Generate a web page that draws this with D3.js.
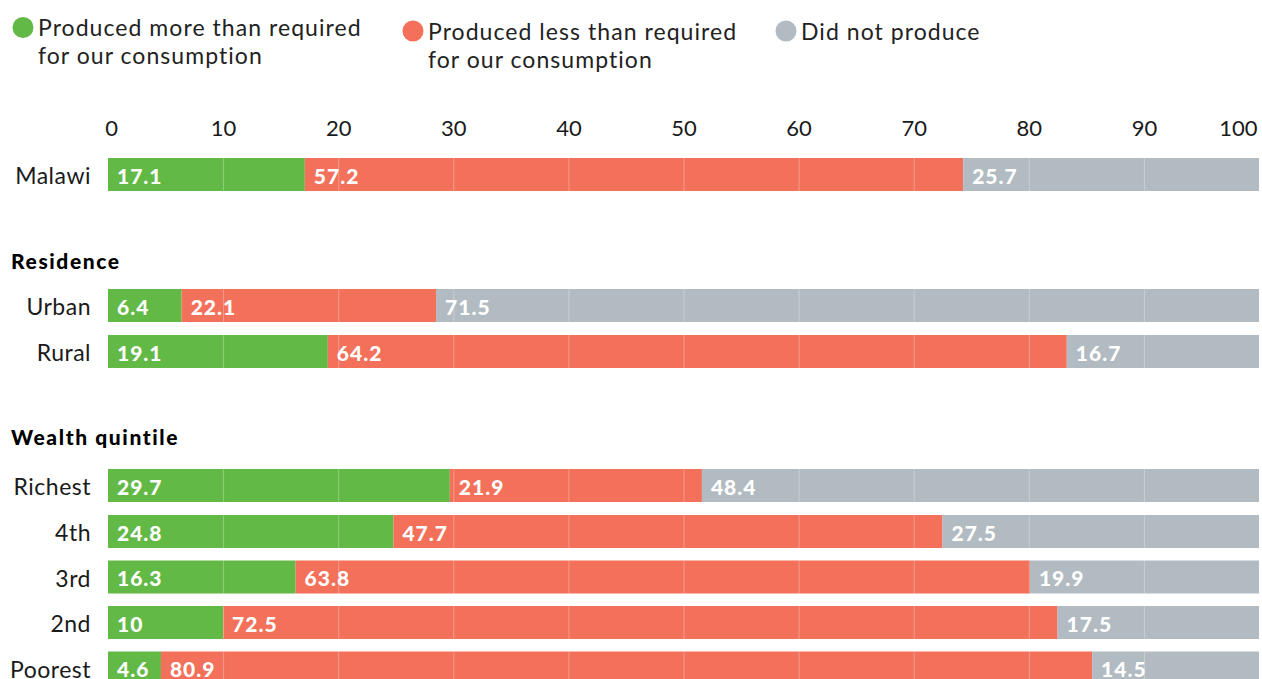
<!DOCTYPE html>
<html><head><meta charset="utf-8">
<script src="https://cdn.jsdelivr.net/npm/d3@7"></script>
<style>body{margin:0;background:#fff;} svg{display:block;font-family:Lato,"Open Sans",sans-serif;}</style>
</head><body>
<script>
const categories = ["Malawi","Urban","Rural","Richest","4th","3rd","2nd","Poorest"];
const groups = ["", "Residence", "Residence", "Wealth quintile", "Wealth quintile", "Wealth quintile", "Wealth quintile", "Wealth quintile"];
const producedMore = [17.1, 6.4, 19.1, 29.7, 24.8, 16.3, 10, 4.6];
const producedLess = [57.2, 22.1, 64.2, 21.9, 47.7, 63.8, 72.5, 80.9];
const didNotProduce = [25.7, 71.5, 16.7, 48.4, 27.5, 19.9, 17.5, 14.5];
const seriesNames = ["Produced more than required\nfor our consumption", "Produced less than required\nfor our consumption", "Did not produce"];
const tickValues = [0,10,20,30,40,50,60,70,80,90,100];
const colors = ["#62b946", "#f3705a", "#b1bbc1"];

const W = 1262, H = 679;
const svg = d3.select("body").append("svg").attr("width", W).attr("height", H);
const x = d3.scaleLinear().domain([0,100]).range([108, 1259]);

// row top positions: layout
const rowTops = [158, 289, 335, 469, 515, 560.5, 606, 651.5];
const barH = 33;
const y = d3.scaleOrdinal().domain(categories).range(rowTops);

// axis
const axis = d3.axisTop(x).tickValues(tickValues).tickSize(0).tickPadding(0);
const ag = svg.append("g").attr("transform","translate(0,136)").call(axis);
ag.select(".domain").remove();
ag.selectAll("text").attr("font-size", 22).attr("fill","#1a1a1a").attr("font-family","Lato, sans-serif").attr("dy", 0);
ag.selectAll(".tick").filter(d=>d===100).select("text").attr("text-anchor","end").attr("x",-2);
ag.selectAll(".tick").filter(d=>d===0).select("text").attr("x",3);

// data stacking
const rows = categories.map((c,i)=>({cat:c, vals:[producedMore[i], producedLess[i], didNotProduce[i]]}));
const rg = svg.selectAll("g.row").data(rows).join("g").attr("class","row")
  .attr("transform", d=>`translate(0,${y(d.cat)})`);
rg.each(function(d){
  const g = d3.select(this);
  let acc = 0;
  d.vals.forEach((v,k)=>{
    g.append("rect").attr("x", x(acc)).attr("y",0).attr("width", x(acc+v)-x(acc)).attr("height", barH).attr("fill", colors[k]);
    acc += v;
  });
  // gridlines
  tickValues.slice(1,-1).forEach(t=>{
    g.append("line").attr("x1", x(t)+0.5).attr("x2", x(t)+0.5).attr("y1",0).attr("y2",barH)
      .attr("stroke","#fff").attr("stroke-opacity",0.3).attr("stroke-width",1);
  });
  acc = 0;
  d.vals.forEach((v,k)=>{
    g.append("text").attr("x", x(acc)+9).attr("y", 25.5)
      .attr("fill","#fff").attr("font-weight","900").attr("font-size",21).attr("letter-spacing",1).text(v);
    acc += v;
  });
  g.append("text").attr("x", 91).attr("y", 26).attr("text-anchor","end")
    .attr("font-size",23).attr("letter-spacing",0.5).attr("fill","#1a1a1a").text(d.cat);
});

// group titles
const groupTitles = [...new Set(groups.filter(g=>g))];
const titleOffsets = [20, 24];
groupTitles.forEach((gname,i)=>{
  const first = categories[groups.indexOf(gname)];
  svg.append("text").attr("x",11).attr("y", y(first)-titleOffsets[i])
    .attr("font-weight","900").attr("font-size",21).attr("letter-spacing",1.6).attr("fill","#000").text(gname);
});

// legend
const legX = [23, 413, 786];
const legY = [27.5, 31, 31];
seriesNames.forEach((s,i)=>{
  const g = svg.append("g");
  g.append("circle").attr("cx", legX[i]).attr("cy", legY[i]).attr("r",10.5).attr("fill", colors[i]);
  const t = g.append("text").attr("x", legX[i]+15).attr("y", legY[i]+8.5).attr("font-size",23).attr("letter-spacing",1.05).attr("fill","#222");
  s.split("\n").forEach((line,j)=>{
    t.append("tspan").attr("x", legX[i]+15).attr("dy", j===0 ? 0 : 28).text(line);
  });
});
</script>
</body></html>
